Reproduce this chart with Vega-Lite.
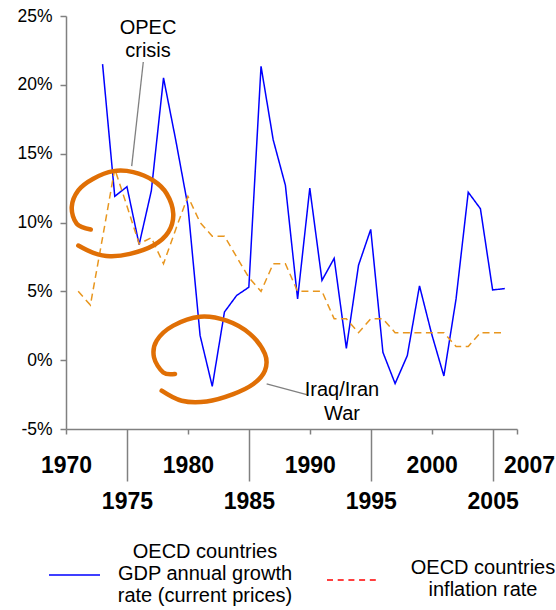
{
  "$schema": "https://vega.github.io/schema/vega-lite/v6.json",
  "autosize": {"type": "none"},
  "padding": {"left": 66, "top": 16, "right": 39, "bottom": 181},
  "width": 451,
  "height": 413,
  "background": "white",
  "config": {"view": {"stroke": null}, "font": "Liberation Sans"},
  "resolve": {"scale": {"color": "independent", "strokeDash": "independent"}, "legend": {"color": "independent", "strokeDash": "independent"}},
  "datasets": {
    "series": [
      {"year": 1973, "value": 21.5, "series": "OECD countries GDP annual growth rate (current prices)"},
      {"year": 1974, "value": 11.9, "series": "OECD countries GDP annual growth rate (current prices)"},
      {"year": 1975, "value": 12.6, "series": "OECD countries GDP annual growth rate (current prices)"},
      {"year": 1976, "value": 8.4, "series": "OECD countries GDP annual growth rate (current prices)"},
      {"year": 1977, "value": 12.3, "series": "OECD countries GDP annual growth rate (current prices)"},
      {"year": 1978, "value": 20.5, "series": "OECD countries GDP annual growth rate (current prices)"},
      {"year": 1979, "value": 16.0, "series": "OECD countries GDP annual growth rate (current prices)"},
      {"year": 1980, "value": 11.2, "series": "OECD countries GDP annual growth rate (current prices)"},
      {"year": 1981, "value": 1.8, "series": "OECD countries GDP annual growth rate (current prices)"},
      {"year": 1982, "value": -1.9, "series": "OECD countries GDP annual growth rate (current prices)"},
      {"year": 1983, "value": 3.5, "series": "OECD countries GDP annual growth rate (current prices)"},
      {"year": 1984, "value": 4.7, "series": "OECD countries GDP annual growth rate (current prices)"},
      {"year": 1985, "value": 5.3, "series": "OECD countries GDP annual growth rate (current prices)"},
      {"year": 1986, "value": 21.35, "series": "OECD countries GDP annual growth rate (current prices)"},
      {"year": 1987, "value": 16.0, "series": "OECD countries GDP annual growth rate (current prices)"},
      {"year": 1988, "value": 12.7, "series": "OECD countries GDP annual growth rate (current prices)"},
      {"year": 1989, "value": 4.45, "series": "OECD countries GDP annual growth rate (current prices)"},
      {"year": 1990, "value": 12.5, "series": "OECD countries GDP annual growth rate (current prices)"},
      {"year": 1991, "value": 5.8, "series": "OECD countries GDP annual growth rate (current prices)"},
      {"year": 1992, "value": 7.4, "series": "OECD countries GDP annual growth rate (current prices)"},
      {"year": 1993, "value": 0.86, "series": "OECD countries GDP annual growth rate (current prices)"},
      {"year": 1994, "value": 6.9, "series": "OECD countries GDP annual growth rate (current prices)"},
      {"year": 1995, "value": 9.5, "series": "OECD countries GDP annual growth rate (current prices)"},
      {"year": 1996, "value": 0.57, "series": "OECD countries GDP annual growth rate (current prices)"},
      {"year": 1997, "value": -1.7, "series": "OECD countries GDP annual growth rate (current prices)"},
      {"year": 1998, "value": 0.33, "series": "OECD countries GDP annual growth rate (current prices)"},
      {"year": 1999, "value": 5.4, "series": "OECD countries GDP annual growth rate (current prices)"},
      {"year": 2000, "value": 1.9, "series": "OECD countries GDP annual growth rate (current prices)"},
      {"year": 2001, "value": -1.15, "series": "OECD countries GDP annual growth rate (current prices)"},
      {"year": 2002, "value": 4.45, "series": "OECD countries GDP annual growth rate (current prices)"},
      {"year": 2003, "value": 12.2, "series": "OECD countries GDP annual growth rate (current prices)"},
      {"year": 2004, "value": 11.0, "series": "OECD countries GDP annual growth rate (current prices)"},
      {"year": 2005, "value": 5.1, "series": "OECD countries GDP annual growth rate (current prices)"},
      {"year": 2006, "value": 5.2, "series": "OECD countries GDP annual growth rate (current prices)"},
      {"year": 1971, "value": 5, "series": "OECD countries inflation rate"},
      {"year": 1972, "value": 4, "series": "OECD countries inflation rate"},
      {"year": 1973, "value": 8.9, "series": "OECD countries inflation rate"},
      {"year": 1974, "value": 13.9, "series": "OECD countries inflation rate"},
      {"year": 1975, "value": 11.2, "series": "OECD countries inflation rate"},
      {"year": 1976, "value": 8.45, "series": "OECD countries inflation rate"},
      {"year": 1977, "value": 8.9, "series": "OECD countries inflation rate"},
      {"year": 1978, "value": 7, "series": "OECD countries inflation rate"},
      {"year": 1979, "value": 9.5, "series": "OECD countries inflation rate"},
      {"year": 1980, "value": 11.9, "series": "OECD countries inflation rate"},
      {"year": 1981, "value": 10, "series": "OECD countries inflation rate"},
      {"year": 1982, "value": 9, "series": "OECD countries inflation rate"},
      {"year": 1983, "value": 9, "series": "OECD countries inflation rate"},
      {"year": 1984, "value": 7.5, "series": "OECD countries inflation rate"},
      {"year": 1985, "value": 6, "series": "OECD countries inflation rate"},
      {"year": 1986, "value": 5, "series": "OECD countries inflation rate"},
      {"year": 1987, "value": 7, "series": "OECD countries inflation rate"},
      {"year": 1988, "value": 7, "series": "OECD countries inflation rate"},
      {"year": 1989, "value": 5, "series": "OECD countries inflation rate"},
      {"year": 1990, "value": 5, "series": "OECD countries inflation rate"},
      {"year": 1991, "value": 5, "series": "OECD countries inflation rate"},
      {"year": 1992, "value": 3, "series": "OECD countries inflation rate"},
      {"year": 1993, "value": 3, "series": "OECD countries inflation rate"},
      {"year": 1994, "value": 2, "series": "OECD countries inflation rate"},
      {"year": 1995, "value": 3, "series": "OECD countries inflation rate"},
      {"year": 1996, "value": 3, "series": "OECD countries inflation rate"},
      {"year": 1997, "value": 2, "series": "OECD countries inflation rate"},
      {"year": 1998, "value": 2, "series": "OECD countries inflation rate"},
      {"year": 1999, "value": 2, "series": "OECD countries inflation rate"},
      {"year": 2000, "value": 2, "series": "OECD countries inflation rate"},
      {"year": 2001, "value": 2, "series": "OECD countries inflation rate"},
      {"year": 2002, "value": 1, "series": "OECD countries inflation rate"},
      {"year": 2003, "value": 1, "series": "OECD countries inflation rate"},
      {"year": 2004, "value": 2, "series": "OECD countries inflation rate"},
      {"year": 2005, "value": 2, "series": "OECD countries inflation rate"},
      {"year": 2006, "value": 2, "series": "OECD countries inflation rate"}
    ]
  },
  "layer": [
    {
      "mark": {"type": "rule", "color": "#8C8C8C", "strokeWidth": 2},
      "encoding": {"y": {"datum": 0, "type": "quantitative", "scale": {"domain": [-5, 25], "nice": false}}}
    },
    {
      "data": {"name": "series"},
      "mark": {"type": "line", "strokeWidth": 1.5},
      "encoding": {
        "x": {
          "field": "year", "type": "quantitative",
          "scale": {"domain": [1970, 2007], "nice": false, "zero": false},
          "axis": {
            "title": null, "grid": false,
            "values": [1970, 1975, 1980, 1985, 1990, 1995, 2000, 2005, 2007],
            "format": "d",
            "labelFont": "Liberation Sans", "labelFontSize": 23, "labelFontWeight": "bold", "labelColor": "#000000",
            "labelFlush": false, "labelOverlap": false, "labelBaseline": "top",
            "labelPadding": {"condition": {"test": "indexof([1975, 1985, 1995, 2005], datum.value) >= 0", "value": 9}, "value": 20},
            "labelOffset": {"condition": {"test": "datum.value == 2007", "value": 12}, "value": 0},
            "domainColor": "#808080", "domainWidth": 1.5,
            "tickColor": "#808080", "tickWidth": 1.5,
            "tickSize": {"condition": {"test": "indexof([1975, 1985, 1995, 2005], datum.value) >= 0", "value": 52}, "value": 5}
          }
        },
        "y": {
          "field": "value", "type": "quantitative",
          "scale": {"domain": [-5, 25], "nice": false},
          "axis": {
            "title": null, "grid": false,
            "values": [-5, 0, 5, 10, 15, 20, 25],
            "labelExpr": "datum.value + '%'",
            "labelFont": "Liberation Sans", "labelFontSize": 17.5, "labelColor": "#000000",
            "labelPadding": 8, "tickSize": 6, "tickColor": "#808080", "tickWidth": 1.5,
            "domainColor": "#808080", "domainWidth": 1.5
          }
        },
        "color": {
          "field": "series", "type": "nominal",
          "scale": {"domain": ["OECD countries GDP annual growth rate (current prices)", "OECD countries inflation rate"], "range": ["#0000FF", "#E8961E"]},
          "legend": null
        },
        "strokeDash": {
          "field": "series", "type": "nominal",
          "scale": {"domain": ["OECD countries GDP annual growth rate (current prices)", "OECD countries inflation rate"], "range": [[1, 0], [7, 4.5]]},
          "legend": null
        }
      }
    },
    {
      "data": {"name": "series"},
      "mark": {"type": "line", "strokeWidth": 1.5, "opacity": 0},
      "encoding": {
        "x": {"field": "year", "type": "quantitative"},
        "y": {"field": "value", "type": "quantitative"},
        "color": {
          "field": "series", "type": "nominal",
          "scale": {"domain": ["OECD countries GDP annual growth rate (current prices)", "OECD countries inflation rate"], "range": ["#0000FF", "#FF0000"]},
          "legend": {
            "title": null, "orient": "none", "legendX": -18, "legendY": 532, "direction": "horizontal",
            "padding": 0, "columnPadding": 31,
            "symbolType": "stroke", "symbolSize": 2601, "symbolStrokeWidth": 1.5,
            "labelFont": "Liberation Sans", "labelFontSize": 20, "labelColor": "#000000",
            "labelAlign": "center", "labelOffset": 104, "labelLineHeight": 23.3, "labelLimit": 300,
            "labelExpr": "datum.value == 'OECD countries inflation rate' ? ['OECD countries', 'inflation rate'] : ['OECD countries', 'GDP annual growth', 'rate (current prices)']",
            "encode": {
              "labels": {"update": {"dy": {"signal": "datum.value == 'OECD countries inflation rate' ? -11.65 : -23.3"}}}
            }
          }
        },
        "strokeDash": {
          "field": "series", "type": "nominal",
          "scale": {"domain": ["OECD countries GDP annual growth rate (current prices)", "OECD countries inflation rate"], "range": [[1, 0], [6, 4.7]]},
          "legend": null
        }
      }
    },
    {
      "data": {"values": [
        {"shape": "opec", "order": 1, "year": 1972.03, "value": 9.49},
        {"shape": "opec", "order": 2, "year": 1970.88, "value": 9.91},
        {"shape": "opec", "order": 3, "year": 1970.47, "value": 11.11},
        {"shape": "opec", "order": 4, "year": 1971.01, "value": 12.33},
        {"shape": "opec", "order": 5, "year": 1972.24, "value": 13.18},
        {"shape": "opec", "order": 6, "year": 1973.88, "value": 13.73},
        {"shape": "opec", "order": 7, "year": 1975.52, "value": 13.66},
        {"shape": "opec", "order": 8, "year": 1977.16, "value": 13.05},
        {"shape": "opec", "order": 9, "year": 1978.26, "value": 12.09},
        {"shape": "opec", "order": 10, "year": 1978.8, "value": 10.63},
        {"shape": "opec", "order": 11, "year": 1978.39, "value": 9.29},
        {"shape": "opec", "order": 12, "year": 1977.16, "value": 8.33},
        {"shape": "opec", "order": 13, "year": 1975.25, "value": 7.72},
        {"shape": "opec", "order": 14, "year": 1973.61, "value": 7.55},
        {"shape": "opec", "order": 15, "year": 1972.24, "value": 7.8},
        {"shape": "opec", "order": 16, "year": 1971.01, "value": 8.33},
        {"shape": "iraq", "order": 1, "year": 1978.94, "value": -1.0},
        {"shape": "iraq", "order": 2, "year": 1977.98, "value": -0.89},
        {"shape": "iraq", "order": 3, "year": 1977.22, "value": 0.2},
        {"shape": "iraq", "order": 4, "year": 1977.44, "value": 1.42},
        {"shape": "iraq", "order": 5, "year": 1978.8, "value": 2.51},
        {"shape": "iraq", "order": 6, "year": 1980.99, "value": 3.16},
        {"shape": "iraq", "order": 7, "year": 1983.18, "value": 2.87},
        {"shape": "iraq", "order": 8, "year": 1985.09, "value": 1.91},
        {"shape": "iraq", "order": 9, "year": 1986.32, "value": 0.45},
        {"shape": "iraq", "order": 10, "year": 1986.32, "value": -0.76},
        {"shape": "iraq", "order": 11, "year": 1985.37, "value": -1.73},
        {"shape": "iraq", "order": 12, "year": 1983.72, "value": -2.46},
        {"shape": "iraq", "order": 13, "year": 1981.54, "value": -3.0},
        {"shape": "iraq", "order": 14, "year": 1979.49, "value": -2.95},
        {"shape": "iraq", "order": 15, "year": 1977.85, "value": -2.22}
      ]},
      "mark": {"type": "line", "color": "#E06F05", "strokeWidth": 4.5, "interpolate": "cardinal", "strokeCap": "round"},
      "encoding": {
        "x": {"field": "year", "type": "quantitative"},
        "y": {"field": "value", "type": "quantitative"},
        "detail": {"field": "shape", "type": "nominal"},
        "order": {"field": "order", "type": "quantitative"}
      }
    },
    {
      "data": {"values": [
        {"year": 1976.34, "value": 21.66, "year2": 1975.39, "value2": 14.09},
        {"year": 1986.46, "value": -1.73, "year2": 1989.75, "value2": -2.51}
      ]},
      "mark": {"type": "rule", "color": "#808080", "strokeWidth": 1.3},
      "encoding": {
        "x": {"field": "year", "type": "quantitative"},
        "x2": {"field": "year2"},
        "y": {"field": "value", "type": "quantitative"},
        "y2": {"field": "value2"}
      }
    },
    {
      "data": {"values": [
        {"year": 1976.73, "value": 24.16, "note": "OPEC|crisis"},
        {"year": 1992.64, "value": -2.17, "note": "Iraq/Iran|War"}
      ]},
      "mark": {"type": "text", "lineBreak": "|", "lineHeight": 23.5, "font": "Liberation Sans", "fontSize": 20, "color": "#000000", "align": "center", "baseline": "middle"},
      "encoding": {
        "x": {"field": "year", "type": "quantitative"},
        "y": {"field": "value", "type": "quantitative"},
        "text": {"field": "note", "type": "nominal"}
      }
    }
  ]
}
